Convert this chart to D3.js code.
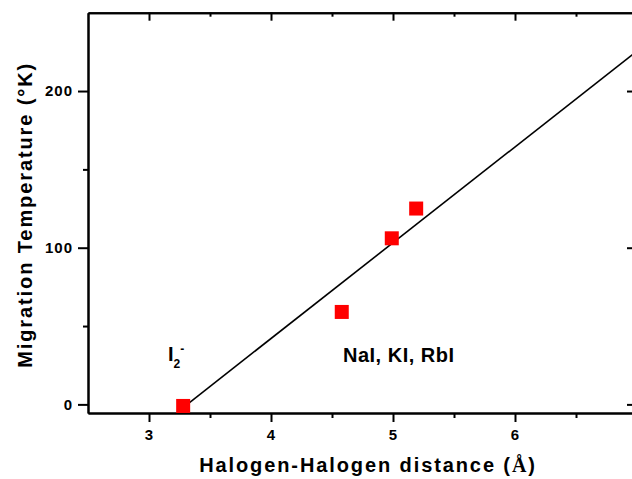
<!DOCTYPE html>
<html>
<head>
<meta charset="utf-8">
<script src="https://cdn.jsdelivr.net/npm/d3@7"></script>
<style>
body { margin: 0; background: #fff; overflow: hidden; }
text { font-family: "Liberation Sans", Arial, sans-serif; font-weight: bold; fill: #000; }
</style>
</head>
<body>
<div id="chart"></div>
<script>
// Data
const distance = [3.28, 4.58, 4.99, 5.19];
const temperature = [-1, 59, 106, 125];
const fitDistance = [3.28, 7];
const fitTemperature = [-2, 225.5];
const xTicks = [3, 4, 5, 6, 7];
const xMinorTicks = [3.5, 4.5, 5.5, 6.5];
const yTicks = [0, 100, 200];
const yMinorTicks = [50, 150];

const width = 632;
const height = 479;
const plot = { left: 88, right: 637, top: 12.7, bottom: 413 };

const svg = d3.select("#chart")
    .append("svg")
    .attr("width", width)
    .attr("height", height);

// Scales
const x = d3.scaleLinear()
    .domain([2.5, 7])
    .range([plot.left, plot.right]);

const y = d3.scaleLinear()
    .domain([-5.5, 250])
    .range([plot.bottom, plot.top]);

// thicker axis lines, bigger bold labels
function styleAxis(g) {
    g.attr("font-family", null);
    g.selectAll("path, line").attr("stroke", "#000").attr("stroke-width", 2);
    g.selectAll("text").attr("font-size", 15).attr("letter-spacing", 1);
}

// Bottom axis
svg.append("g")
    .attr("transform", `translate(0,${plot.bottom})`)
    .call(d3.axisBottom(x).tickValues(xTicks).tickSize(9).tickPadding(7)
        .tickFormat(d3.format("d")).tickSizeOuter(0))
    .call(styleAxis);
svg.append("g")
    .attr("transform", `translate(0,${plot.bottom})`)
    .call(d3.axisBottom(x).tickValues(xMinorTicks).tickSize(5).tickFormat("").tickSizeOuter(0))
    .call(styleAxis);

// Top axis (ticks inward)
svg.append("g")
    .attr("transform", `translate(0,${plot.top})`)
    .call(d3.axisBottom(x).tickValues(xTicks).tickSize(8).tickFormat("").tickSizeOuter(0))
    .call(styleAxis);
svg.append("g")
    .attr("transform", `translate(0,${plot.top})`)
    .call(d3.axisBottom(x).tickValues(xMinorTicks).tickSize(4).tickFormat("").tickSizeOuter(0))
    .call(styleAxis);

// Left axis
svg.append("g")
    .attr("transform", `translate(${plot.left},0)`)
    .call(d3.axisLeft(y).tickValues(yTicks).tickSize(10).tickPadding(5)
        .tickFormat(d3.format("d")).tickSizeOuter(0))
    .call(styleAxis);
svg.append("g")
    .attr("transform", `translate(${plot.left},0)`)
    .call(d3.axisLeft(y).tickValues(yMinorTicks).tickSize(5).tickFormat("").tickSizeOuter(0))
    .call(styleAxis);

// Right axis (ticks inward)
svg.append("g")
    .attr("transform", `translate(${plot.right},0)`)
    .call(d3.axisLeft(y).tickValues(yTicks).tickSize(10).tickFormat("").tickSizeOuter(0))
    .call(styleAxis);
svg.append("g")
    .attr("transform", `translate(${plot.right},0)`)
    .call(d3.axisLeft(y).tickValues(yMinorTicks).tickSize(5).tickFormat("").tickSizeOuter(0))
    .call(styleAxis);

// Fit line
const line = d3.line()
    .x(d => x(d[0]))
    .y(d => y(d[1]));

svg.append("path")
    .datum(d3.zip(fitDistance, fitTemperature))
    .attr("d", line)
    .attr("fill", "none")
    .attr("stroke", "#000")
    .attr("stroke-width", 1.6);

// Data points
svg.selectAll(".pt")
    .data(d3.zip(distance, temperature))
    .enter()
    .append("rect")
    .attr("class", "pt")
    .attr("x", d => x(d[0]) - 7)
    .attr("y", d => y(d[1]) - 7)
    .attr("width", 14)
    .attr("height", 14)
    .attr("fill", "#ff0000");

// Annotations
const i2 = svg.append("text")
    .attr("x", x(3.155))
    .attr("y", y(27.5))
    .attr("font-size", 20)
    .text("I");
i2.append("tspan")
    .attr("font-size", 12)
    .attr("dy", 7)
    .text("2");
i2.append("tspan")
    .attr("font-size", 12)
    .attr("dy", -15)
    .text("-");

svg.append("text")
    .attr("x", x(4.59))
    .attr("y", y(27))
    .attr("font-size", 20)
    .attr("letter-spacing", 0.5)
    .text("NaI, KI, RbI");

// Axis titles
const xTitle = svg.append("text")
    .attr("x", 368)
    .attr("y", 472)
    .attr("text-anchor", "middle")
    .attr("font-size", 20)
    .attr("letter-spacing", 1.9)
    .text("Halogen-Halogen distance (");
xTitle.append("tspan")
    .style("font-family", "'Liberation Serif', 'Times New Roman', serif")
    .text("Å");
xTitle.append("tspan").text(")");

svg.append("text")
    .attr("transform", `translate(32,${(plot.top + plot.bottom) / 2 + 2}) rotate(-90)`)
    .attr("text-anchor", "middle")
    .attr("font-size", 20)
    .attr("letter-spacing", 1.9)
    .text("Migration Temperature (°K)");
</script>
</body>
</html>
